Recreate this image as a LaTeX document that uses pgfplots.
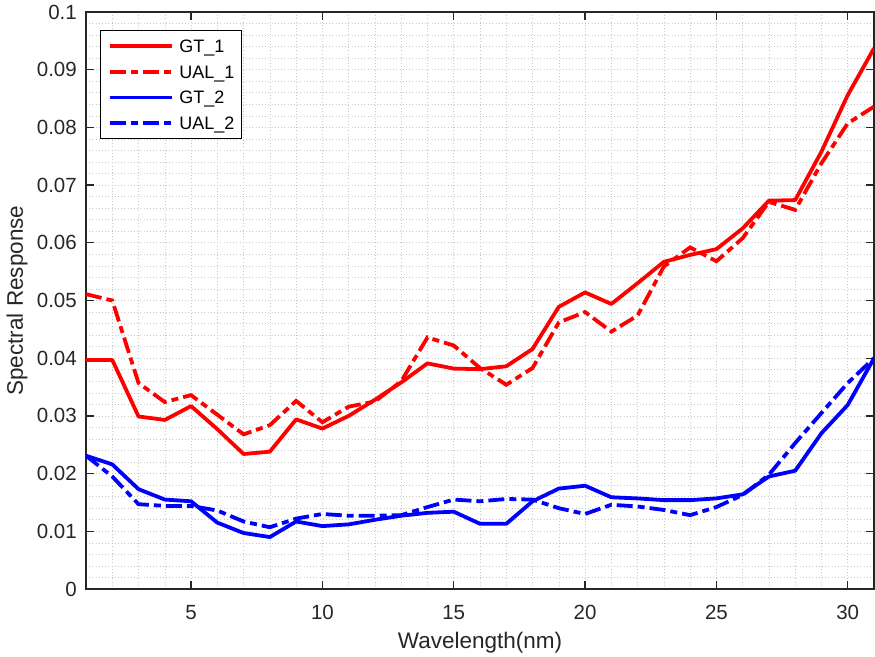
\documentclass[border=0pt]{standalone}
\usepackage{fontspec}
\setmainfont{Liberation Sans}
\usepackage{pgfplots}
\pgfplotsset{compat=1.18}
\definecolor{axgray}{RGB}{38,38,38}
\definecolor{gridgray}{RGB}{200,200,200}

\pgfplotstableread{
x gt1 ual1 gt2 ual2
1 0.0397 0.0511 0.0231 0.0231
2 0.0397 0.0500 0.0216 0.0195
3 0.0299 0.0357 0.0173 0.0147
4 0.0293 0.0324 0.0155 0.0144
5 0.0317 0.0336 0.0152 0.0144
6 0.0277 0.0302 0.0115 0.0136
7 0.0234 0.0268 0.0097 0.0117
8 0.0238 0.0284 0.0090 0.0107
9 0.0294 0.0326 0.0117 0.0122
10 0.0278 0.0289 0.0109 0.0130
11 0.0300 0.0316 0.0112 0.0127
12 0.0328 0.0325 0.0120 0.0127
13 0.0358 0.0360 0.0127 0.0128
14 0.0391 0.0436 0.0132 0.0142
15 0.0382 0.0422 0.0134 0.0155
16 0.0381 0.0383 0.0113 0.0152
17 0.0386 0.0354 0.0113 0.0156
18 0.0416 0.0383 0.0152 0.0155
19 0.0489 0.0462 0.0174 0.0140
20 0.0514 0.0480 0.0179 0.0130
21 0.0494 0.0446 0.0159 0.0146
22 0.0530 0.0474 0.0157 0.0143
23 0.0567 0.0559 0.0154 0.0137
24 0.0579 0.0592 0.0154 0.0128
25 0.0589 0.0568 0.0157 0.0142
26 0.0625 0.0608 0.0164 0.0163
27 0.0673 0.0671 0.0195 0.0198
28 0.0674 0.0657 0.0205 0.0253
29 0.0758 0.0738 0.0270 0.0305
30 0.0856 0.0807 0.0319 0.0357
31 0.0937 0.0836 0.0400 0.0400
}\datatable

\begin{document}
\begin{tikzpicture}
\begin{axis}[
  scale only axis, width=788pt, height=577pt,
  xmin=1, xmax=31, ymin=0, ymax=0.1,
  xtick={5,10,15,20,25,30},
  ytick={0,0.01,0.02,0.03,0.04,0.05,0.06,0.07,0.08,0.09,0.1},
  minor xtick={1,2,3,4,5,6,7,8,9,10,11,12,13,14,15,16,17,18,19,20,21,22,23,24,25,26,27,28,29,30,31},
  minor ytick={0.002,0.004,0.006,0.008,0.012,0.014,0.016,0.018,0.022,0.024,0.026,0.028,0.032,0.034,0.036,0.038,0.042,0.044,0.046,0.048,0.052,0.054,0.056,0.058,0.062,0.064,0.066,0.068,0.072,0.074,0.076,0.078,0.082,0.084,0.086,0.088,0.092,0.094,0.096,0.098},
  grid=both,
  major grid style={gridgray, line width=0.6pt, dash pattern=on 1pt off 2.2pt},
  minor grid style={gridgray, line width=0.6pt, dash pattern=on 1pt off 2.2pt},
  tick align=inside, major tick length=8pt, minor tick length=0pt,
  axis line style={axgray, line width=1.2pt},
  every tick/.style={axgray, line width=1.2pt},
  scaled y ticks=false,
  scaled x ticks=false,
  /pgf/number format/assume math mode=true,
  yticklabel style={/pgf/number format/fixed, /pgf/number format/precision=2,
     font=\fontsize{20.5}{24}\selectfont, text=axgray, anchor=east, inner sep=0pt, xshift=-9pt},
  xticklabel style={font=\fontsize{20.5}{24}\selectfont, text=axgray, anchor=base, yshift=-30.5pt},
  xlabel={Wavelength(nm)},
  ylabel={Spectral Response},
  xlabel style={font=\fontsize{22.5}{26}\selectfont, text=axgray, at={(axis description cs:0.5,-0.1023)}, anchor=base},
  ylabel style={font=\fontsize{22.5}{26}\selectfont, text=axgray, at={(axis description cs:-0.0800,0.5)}, anchor=base, rotate=0},
  legend image code/.code={\draw[#1] (0pt,6.5pt) -- (62pt,6.5pt);},
  legend cell align=left,
  legend style={at={(axis description cs:0,1)}, anchor=north west, xshift=14pt, yshift=-18pt,
     draw=black, line width=1.2pt, fill=white, font=\fontsize{18}{20}\selectfont,
     inner xsep=7pt, inner ysep=9pt, row sep=12.7pt, column sep=6pt,
     cells={anchor=base west},
     nodes={inner sep=0pt, text height=13pt, text depth=0pt}},
  dashdot/.style={dash pattern=on 16pt off 5pt on 7pt off 5pt},
]
\addplot[red, line width=3.8pt, line join=round] table[x=x, y=gt1] {\datatable};
\addlegendentry{GT\_1}
\addplot[red, line width=3.8pt, dashdot] table[x=x, y=ual1] {\datatable};
\addlegendentry{UAL\_1}
\addplot[blue, line width=3.8pt, line join=round] table[x=x, y=gt2] {\datatable};
\addlegendentry{GT\_2}
\addplot[blue, line width=3.8pt, dashdot] table[x=x, y=ual2] {\datatable};
\addlegendentry{UAL\_2}
\end{axis}
\pgfresetboundingbox
\path[use as bounding box] ([xshift=-86pt,yshift=-67pt]current axis.south west) rectangle ([xshift=1pt,yshift=12pt]current axis.north east);
\end{tikzpicture}
\end{document}
